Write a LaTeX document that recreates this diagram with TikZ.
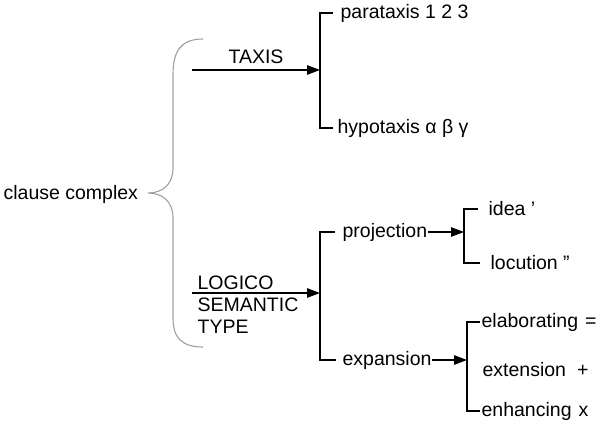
\documentclass[tikz,border=0pt]{standalone}
\usepackage{fontspec}
\setmainfont{Liberation Sans}
\usetikzlibrary{arrows.meta}
\begin{document}
\begin{tikzpicture}[x=1pt, y=-1pt, line width=1.25pt,
  every node/.style={font=\fontsize{19.5}{22}\selectfont, inner sep=0pt},
  arr/.style={-{Triangle[length=13pt,width=9.5pt]}}]
  \useasboundingbox (0,0) rectangle (600,425);
  \draw[gray!75, line width=1.1pt] (203,39) .. controls (180,39) and (173,52) .. (173,75)
    -- (173,168) .. controls (173,185) and (162,193) .. (148,193)
    .. controls (162,193) and (173,201) .. (173,218)
    -- (173,318) .. controls (173,338) and (182,347) .. (203,347);
  \node[anchor=west] (cc) at (3,194) {clause complex};
  \coordinate (taxst) at (192,70);
  \coordinate (taxbr) at (320,70);
  \draw[arr] (taxst) -- node[above, inner sep=6pt] (taxis) {TAXIS} (taxbr);
  \node[anchor=west] (para) at (340,13)  {parataxis 1 2 3};
  \node[anchor=west] (hypo) at (337,128) {hypotaxis α β γ};
  \draw[shorten <=7pt, shorten >=4pt] (para.west) -| (taxbr) |- (hypo.west);
  \node[anchor=north west, align=left] (lst) at (197,275) {LOGICO\\SEMANTIC\\TYPE};
  \coordinate (lsst) at (192,293);
  \coordinate (lsbr) at (320,293);
  \draw[arr] (lsst) -- (lsbr);
  \node[anchor=west] (proj) at (342,232) {projection};
  \node[anchor=west] (expa) at (342,360) {expansion};
  \draw[shorten <=7pt, shorten >=6pt] (proj.west) -| (lsbr) |- (expa.west);
  \coordinate (prbr) at (464,232);
  \draw[arr] (proj.east) -- (prbr);
  \node[anchor=west] (idea) at (488,209) {idea '};
  \node[anchor=west] (locu) at (490,263) {locution ''};
  \draw[shorten <=10pt, shorten >=10pt] (idea.west) -| (prbr) |- (locu.west);
  \coordinate (exbr) at (467,360);
  \draw[arr] (expa.east) -- (exbr);
  \node[anchor=west] (elab) at (481,322) {elaborating\hspace{7pt}=};
  \node[anchor=west] (exte) at (482,370) {extension\hspace{11pt}+};
  \node[anchor=west] (enha) at (481,411) {enhancing\hspace{7pt}x};
  \draw[shorten <=1pt, shorten >=1pt] (elab.west) -| (exbr) |- (enha.west);
\end{tikzpicture}
\end{document}
